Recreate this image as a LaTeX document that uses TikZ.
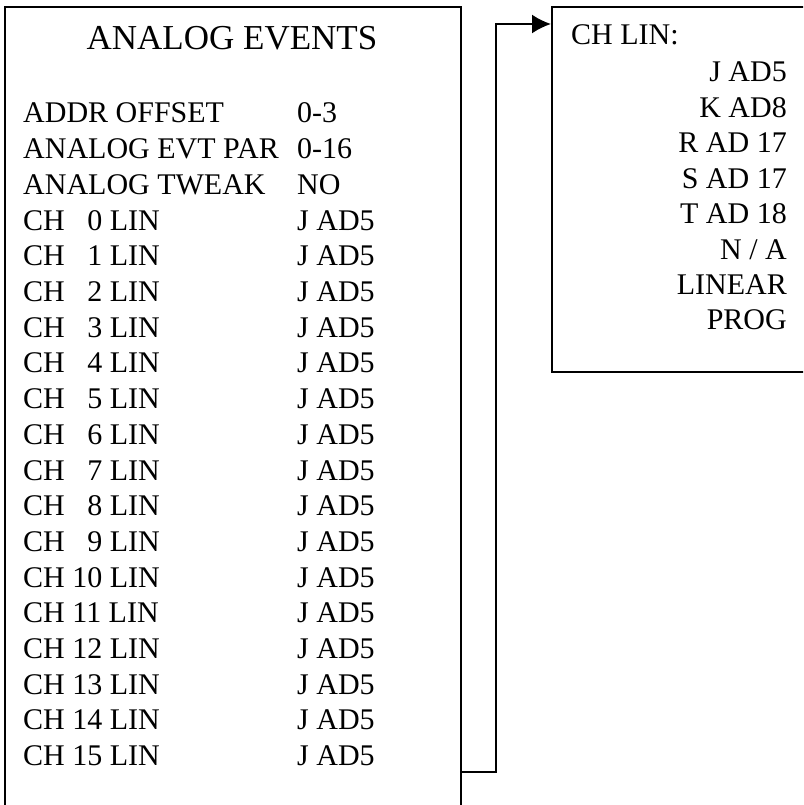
\documentclass[tikz,border=0pt]{standalone}
\usepackage{fontspec}
\setmainfont{Liberation Serif}
\usetikzlibrary{arrows.meta}
\begin{document}
\begin{tikzpicture}[x=1pt,y=1pt,
    box/.style={draw=black, line width=2pt, inner sep=0pt, anchor=north west},
    entry/.style={inner sep=0pt, font=\fontsize{30}{36}\selectfont},
    link/.style={black, line width=2pt, -{Latex[length=19pt,width=19pt]}}]
    \path[use as bounding box, clip] (0,0) rectangle (803,-805);
    % the two boxes
    \node[box, minimum width=456pt, minimum height=830pt] (evtbox) at (4,-6) {};
    \node[box, minimum width=320pt, minimum height=365pt] (linbox) at (551,-6) {};
    \node[entry, anchor=base, font=\fontsize{35}{42}\selectfont] (title) at (232,-50) {ANALOG EVENTS};
    % settings
    \node[entry, anchor=base west] (addr) at (23,-123) {ADDR OFFSET};
    \node[entry, anchor=base west] (addrval) at (297,-123) {0-3};
    \node[entry, anchor=base west] (evtpar) at (23,-158.7) {ANALOG EVT PAR};
    \node[entry, anchor=base west] (evtparval) at (297,-158.7) {0-16};
    \node[entry, anchor=base west] (tweak) at (23,-194.4) {ANALOG TWEAK};
    \node[entry, anchor=base west] (tweakval) at (297,-194.4) {NO};
    \foreach \n in {0,...,15} {
        \node[entry, anchor=base west] (ch\n) at (23,{-123-35.7*(\n+3)}) {CH \ifnum\n<10 \hphantom{1}\fi\n{} LIN};
        \node[entry, anchor=base west] (chval\n) at (297,{-123-35.7*(\n+3)}) {J AD5};
    }
    % choices
    \node[entry, anchor=base west] (linhead) at (571,-45) {CH LIN:};
    \foreach \t [count=\i from 0] in {J AD5, K AD8, R AD 17, S AD 17, T AD 18, N / A, LINEAR, PROG}
        \node[entry, anchor=base east] (lin\i) at (787,{-82-35.4*\i}) {\t};
    % connector
    \coordinate (turn) at (496,-772);
    \draw[link] (evtbox.east |- turn) -- (turn) |- (linbox.west |- 0,-24);
\end{tikzpicture}
\end{document}
